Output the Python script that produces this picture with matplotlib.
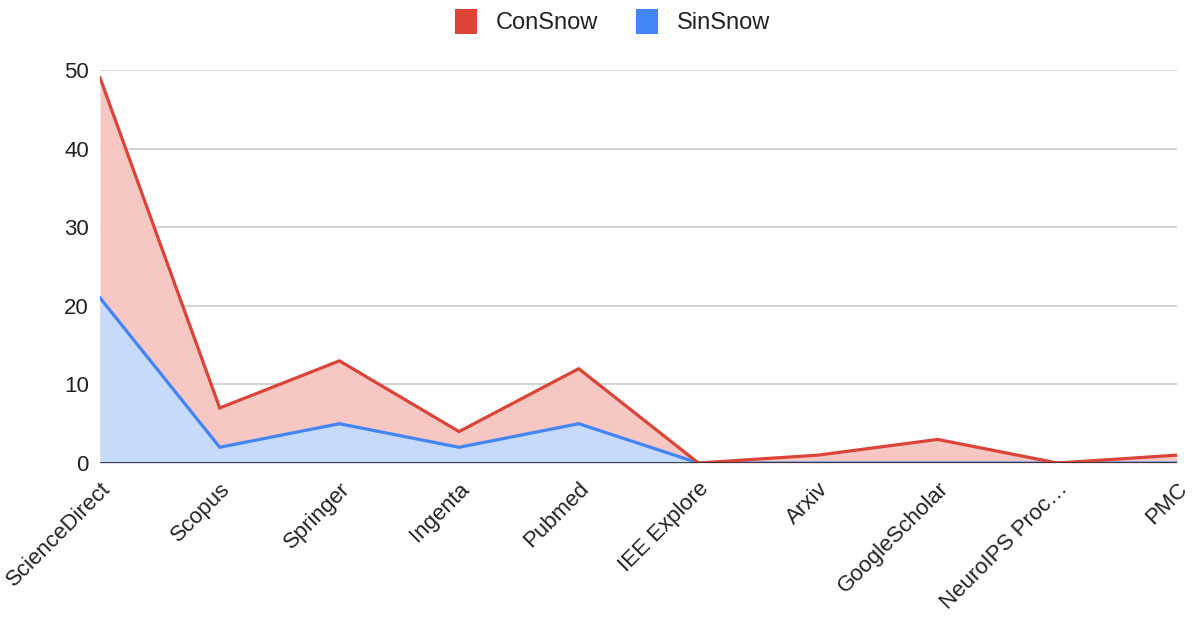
import numpy as np
import matplotlib.pyplot as plt
from matplotlib.patches import Patch

sources = ['ScienceDirect', 'Scopus', 'Springer', 'Ingenta', 'Pubmed',
           'IEE Explore', 'Arxiv', 'GoogleScholar', 'NeuroIPS Proc…', 'PMC']
con_snow = [49, 7, 13, 4, 12, 0, 1, 3, 0, 1]
sin_snow = [21, 2, 5, 2, 5, 0, 0, 0, 0, 0]
y_ticks = [0, 10, 20, 30, 40, 50]

red = '#DB4437'
blue = '#4285F4'
red_fill = '#F6C7C3'
blue_fill = '#C6DAFB'

plt.rcParams['font.family'] = ['Arial', 'Liberation Sans', 'DejaVu Sans']

fig = plt.figure(figsize=(11.94, 6.17), dpi=100)
ax = fig.add_axes([0.0838, 0.2496, 0.9020, 0.6369])
x = np.arange(len(sources))

ax.fill_between(x, 0, con_snow, color=red_fill, lw=0, zorder=1)
ax.fill_between(x, 0, sin_snow, color=blue_fill, lw=0, zorder=2)
ax.plot(x, con_snow, color=red, lw=2.3, zorder=4, solid_joinstyle='miter')
ax.plot(x, sin_snow, color=blue, lw=2.3, zorder=3, solid_joinstyle='miter')
ax.axhline(0, color='#333333', lw=1.3, zorder=5)

ax.set_xlim(0, len(sources) - 1)
ax.set_ylim(0, 50)
ax.set_yticks(y_ticks)
ax.grid(axis='y', color='#CCCCCC', lw=1.2, zorder=0)
ax.set_axisbelow(True)
for s in ax.spines.values():
    s.set_visible(False)
ax.tick_params(axis='both', length=0, labelsize=16, colors='#222222')
ax.tick_params(axis='y', pad=8)
ax.set_xticks(x)
ax.set_xticklabels(sources, rotation=45, ha='right', va='top',
                   rotation_mode='anchor')
ax.tick_params(axis='x', pad=11)

handles = [Patch(facecolor=red, label='ConSnow'), Patch(facecolor=blue, label='SinSnow')]
fig.legend(handles=handles, loc='upper center', bbox_to_anchor=(0.513, 1.02),
           ncol=2, frameon=False, fontsize=17, handlelength=0.95, handleheight=1.25,
           columnspacing=1.6, handletextpad=0.8, labelcolor='#222222')

fig.savefig('out.png', dpi=100)
